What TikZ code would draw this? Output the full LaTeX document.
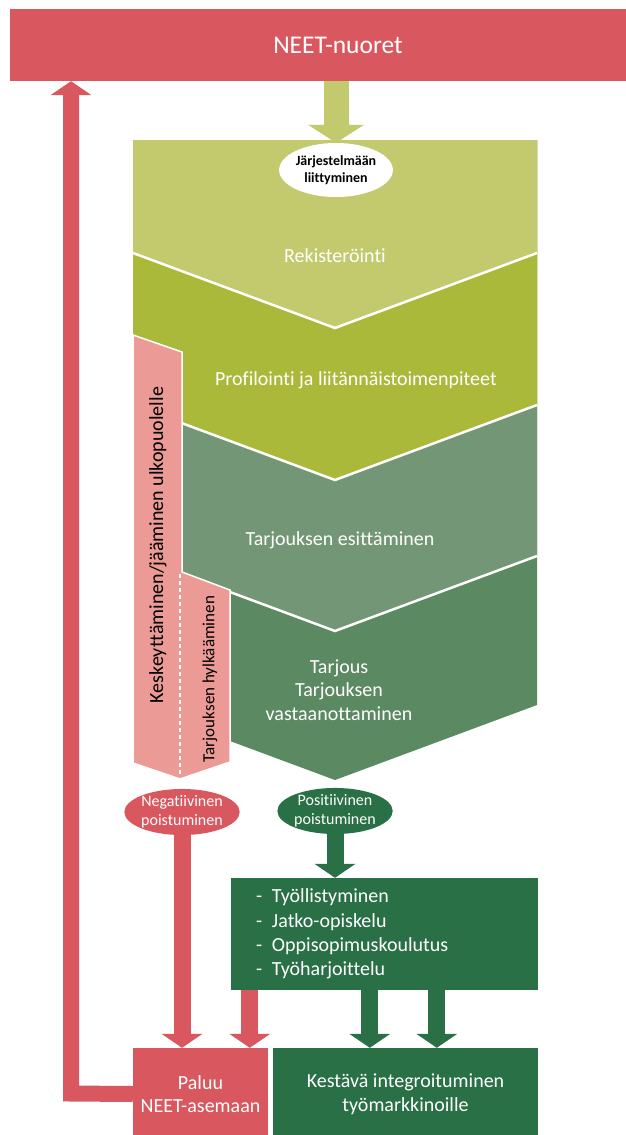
\documentclass[tikz,border=0pt]{standalone}
\usepackage{fontspec}
\setmainfont{Carlito}[Ligatures=NoCommon]
\usetikzlibrary{arrows.meta, shapes.geometric, calc}

\definecolor{neetred}{RGB}{217,87,94}
\definecolor{dropcol}{RGB}{236,154,149}
\definecolor{regcol}{RGB}{195,202,110}
\definecolor{profcol}{RGB}{170,185,58}
\definecolor{offercol}{RGB}{115,151,118}
\definecolor{acceptcol}{RGB}{91,137,97}
\definecolor{exitgreen}{RGB}{42,112,70}

\tikzset{
x=1pt, y=-1pt,
every node/.append style={font=\fontsize{20}{23.5}\selectfont},
bandtext/.style={text=white, align=center},
box/.style={rectangle, inner sep=0pt, text=white, align=center},
exit/.style={ellipse, inner sep=0pt, minimum width=106pt, minimum height=46pt,
    text=white, align=center, font=\fontsize{16}{19}\selectfont},
sep/.style={white, line width=2.5pt},
redarrow/.style={draw=neetred, line width=17pt,
    -{Triangle[width=41pt, length=14pt, line width=0pt]}},
greenarrow/.style={draw=exitgreen, line width=17pt,
    -{Triangle[width=41pt, length=14pt, line width=0pt]}},
}

\begin{document}
\begin{tikzpicture}
\useasboundingbox (0,0) rectangle (625,1135);

% chevron bands, darkest first
\foreach \b/\c in {705/acceptcol, 556/offercol, 405/profcol, 253/regcol}
    \fill[\c] (133,140) -- (537,140) -- (537,\b) -- (335,\b+75) -- (133,\b) -- cycle;
\foreach \b in {253,405,556}
    \draw[sep] (133,\b) -- (335,\b+75) -- (537,\b);

% drop-out bar
\filldraw[fill=dropcol, draw=white, line width=1.5pt]
    (133,335) -- (182,352) -- (182,572) -- (230,590) -- (230,762) -- (180,779) -- (133,763) -- cycle;
\draw[white, line width=2pt, dash pattern=on 4pt off 3pt] (180,574) -- (180,777);

\node[box, fill=neetred, minimum width=656pt, minimum height=72pt,
    font=\fontsize{25.5}{30}\selectfont] (neet) at (338,45) {NEET-nuoret};
\node[ellipse, fill=white, inner sep=0pt, minimum width=92pt, minimum height=54pt, align=center,
    font=\bfseries\fontsize{14}{17}\selectfont] (join) at (336,170) {Järjestelmään\\liittyminen};

\node[bandtext] (reg) at (335,256) {Rekisteröinti};
\node[bandtext] (prof) at (356,380) {Profilointi ja liitännäistoimenpiteet};
\node[bandtext] (offer) at (340,540) {Tarjouksen esittäminen};
\node[bandtext] (accept) at (339,690) {Tarjous\\Tarjouksen\\vastaanottaminen};

\node[rotate=90] (quit) at (158,545) {Keskeyttäminen/jääminen ulkopuolelle};
\node[rotate=90, font=\fontsize{17}{20}\selectfont] (reject) at (210,679) {Tarjouksen hylkääminen};

% exits
\node[exit, fill=neetred] (neg) at (182,812) {Negatiivinen\\poistuminen};
\node[exit, fill=exitgreen] (pos) at (335,811) {Positiivinen\\poistuminen};

\node[box, fill=exitgreen, minimum width=307pt, minimum height=112pt, text width=257pt,
    align=left, font=\fontsize{20}{24.3}\selectfont] (paths) at (384.5,934)
    {\makebox[16pt][l]{-}Työllistyminen\\
     \makebox[16pt][l]{-}Jatko-opiskelu\\
     \makebox[16pt][l]{-}Oppisopimuskoulutus\\
     \makebox[16pt][l]{-}Työharjoittelu};

\node[box, fill=neetred, minimum width=135pt, minimum height=92pt] (back) at (200.5,1094)
    {Paluu\\NEET-asemaan};
\node[box, fill=exitgreen, minimum width=265pt, minimum height=92pt] (stay) at (405.5,1094)
    {Kestävä integroituminen\\työmarkkinoille};

\coordinate (ret) at (71,1093.5);
\path (paths.south west) ++(19,0) coordinate (fail)
      (paths.south west) ++(139,0) coordinate (ok1)
      (paths.south west) ++(206,0) coordinate (ok2);

% arrows
\draw[draw=regcol, line width=25pt, -{Triangle[width=56pt, length=18pt, line width=0pt]}]
    (neet.south -| join) -- (join.north);
\draw[redarrow, line width=16pt] (back.west) -- (ret) -- (ret |- neet.south);
\draw[redarrow] (neg.south) -- (neg.south |- back.north);
\draw[redarrow] (fail) -- (fail |- back.north);
\draw[greenarrow] (pos.south) -- (pos.south |- paths.north);
\draw[greenarrow] (ok1) -- (ok1 |- stay.north);
\draw[greenarrow] (ok2) -- (ok2 |- stay.north);
\end{tikzpicture}
\end{document}
